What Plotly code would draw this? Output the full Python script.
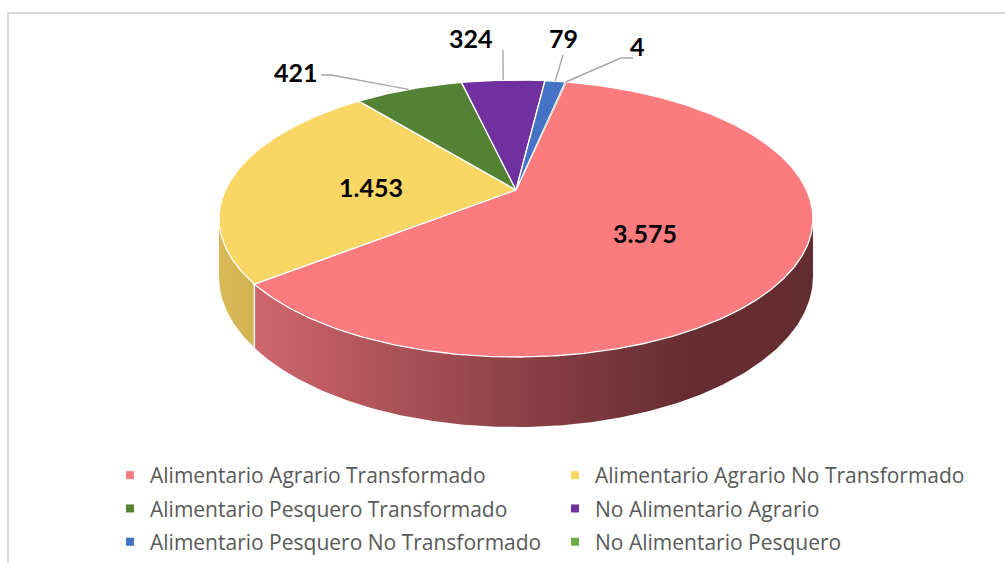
import numpy as np
import plotly.graph_objects as go

# ---------------- data ----------------
categories = [
    "Alimentario Agrario Transformado",
    "Alimentario Agrario No Transformado",
    "Alimentario Pesquero Transformado",
    "No Alimentario Agrario",
    "Alimentario Pesquero No Transformado",
    "No Alimentario Pesquero",
]
values = [3575, 1453, 421, 324, 79, 4]
value_labels = ["3.575", "1.453", "421", "324", "79", "4"]

# ---------------- style ----------------
top_colors = ["#FB7B7F", "#FAD665", "#548235", "#7030A0", "#4472C4", "#70AD47"]
side_scales = [
    [[0, "#CF666D"], [0.45, "#8F4347"], [0.78, "#652D31"], [1, "#632C30"]],
    [[0, "#D9B857"], [1, "#D4B353"]],
    [[0, "#3F6228"], [1, "#3F6228"]],
    [[0, "#541F7A"], [1, "#541F7A"]],
    [[0, "#335695"], [1, "#335695"]],
    [[0, "#548235"], [1, "#548235"]],
]

W, Hpx = 1005, 563
CX, CY = 516, 190          # pie apex (pixels)
RA, RB = 290.6, 132.6      # ellipse semi-axes
K = 0.206                  # perspective factor
DEPTH = 55.6               # pie thickness
START = 12.0               # first slice angle (deg, clockwise from top)


def proj(theta_deg, depth=0.0):
    t = np.radians(theta_deg)
    u, v = np.sin(t), np.cos(t)
    s = 1.0 / (1.0 + K * v)
    return CX + RA * u * s, CY - RB * v * s + depth * s


def arc(a0, a1, depth=0.0):
    n = max(3, int(abs(a1 - a0) * 2) + 1)
    th = np.linspace(a0, a1, n)
    return proj(th, depth)


total = float(sum(values))
bounds = [START]
for v in values:
    bounds.append(bounds[-1] + 360.0 * v / total)

fig = go.Figure()

# visible front side range
vis0 = np.degrees(np.arccos(-K))
vis1 = 360.0 - vis0

side_edges = []
for i, v in enumerate(values):
    a0, a1 = bounds[i], bounds[i + 1]
    s0, s1 = max(a0, vis0), min(a1, vis1)
    if s1 <= s0:
        continue
    xt, yt = arc(s0, s1)
    xb, yb = arc(s1, s0, DEPTH)
    xs = np.concatenate([xt, xb, xt[:1]])
    ys = np.concatenate([yt, yb, yt[:1]])
    fig.add_trace(go.Scatter(
        x=xs, y=ys, mode="lines", fill="toself",
        line=dict(width=0, color="rgba(0,0,0,0)"),
        fillgradient=dict(type="horizontal", colorscale=side_scales[i]),
        hoverinfo="skip", showlegend=False,
    ))
    if vis0 < a1 < vis1:
        side_edges.append(a1)

for a in side_edges:
    x0, y0 = proj(a)
    x1, y1 = proj(a, DEPTH)
    fig.add_trace(go.Scatter(x=[x0, x1], y=[y0, y1], mode="lines",
                             line=dict(color="white", width=1.5),
                             hoverinfo="skip", showlegend=False))

# top faces
for i, v in enumerate(values):
    a0, a1 = bounds[i], bounds[i + 1]
    xa, ya = arc(a0, a1)
    xs = np.concatenate([[CX], xa, [CX]])
    ys = np.concatenate([[CY], ya, [CY]])
    fig.add_trace(go.Scatter(
        x=xs, y=ys, mode="lines", fill="toself", fillcolor=top_colors[i],
        line=dict(color="white", width=1.3 if v / total > 0.002 else 0),
        name=categories[i], hovertemplate=categories[i] + ": " + value_labels[i] + "<extra></extra>",
        showlegend=False,
    ))

# labels
label_font = dict(family="Lato, 'DejaVu Sans', sans-serif", size=25, color="#000000", weight="bold")
inside_pos = {0: (645, 233), 1: (371, 187)}
outside_pos = {2: (296, 72), 3: (471, 38), 4: (563, 38), 5: (637, 46)}
leader_start = {2: [(321, 75), (331, 75)], 3: [(503, 50)], 4: [(563, 55)], 5: [(633, 58), (621, 58)]}

for i, (x, y) in inside_pos.items():
    fig.add_annotation(x=x, y=y, text=value_labels[i], showarrow=False, font=label_font)
for i, (x, y) in outside_pos.items():
    fig.add_annotation(x=x, y=y, text=value_labels[i], showarrow=False, font=label_font)
    mid = (bounds[i] + bounds[i + 1]) / 2.0
    ax, ay = proj(mid)
    pts = leader_start[i] + [(ax, ay)]
    fig.add_trace(go.Scatter(x=[p[0] for p in pts], y=[p[1] for p in pts], mode="lines",
                             line=dict(color="#A6A6A6", width=1.4),
                             hoverinfo="skip", showlegend=False))

# legend entries
for i, name in enumerate(categories):
    fig.add_trace(go.Scatter(
        x=[None], y=[None], mode="markers", name=name,
        marker=dict(symbol="square", size=8, color=top_colors[i]),
        legend="legend" if i % 2 == 0 else "legend2",
        legendgroup="g%d" % i, showlegend=True,
    ))

leg_common = dict(
    orientation="v", xanchor="left", yanchor="top",
    font=dict(family="'Open Sans', sans-serif", size=21, color="#595959"),
    bgcolor="rgba(0,0,0,0)", tracegroupgap=3, itemwidth=30,
)
fig.update_layout(
    width=W, height=Hpx,
    margin=dict(l=0, r=0, t=0, b=0, autoexpand=False),
    paper_bgcolor="white", plot_bgcolor="white",
    xaxis=dict(range=[0, W], visible=False, fixedrange=True),
    yaxis=dict(range=[Hpx, 0], visible=False, fixedrange=True),
    legend=dict(x=110 / W, y=1 - 455 / Hpx, **leg_common),
    legend2=dict(x=555 / W, y=1 - 455 / Hpx, **leg_common),
    shapes=[dict(type="rect", xref="x", yref="y", x0=8, y0=13, x1=W + 10, y1=Hpx + 10,
                 line=dict(color="#D9D9D9", width=2), fillcolor="rgba(0,0,0,0)", layer="below")],
    hovermode="closest",
)

fig.write_html("out.html", config={"displayModeBar": False},
               post_script="document.body.style.margin='0';document.body.style.overflow='hidden';")
